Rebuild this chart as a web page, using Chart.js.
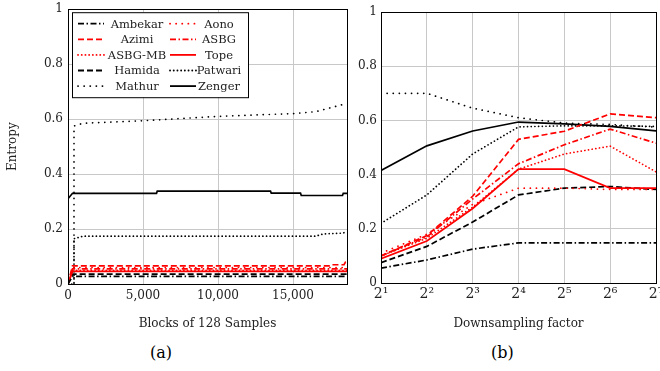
<!DOCTYPE html>
<html>
<head>
<meta charset="utf-8">
<script src="https://cdn.jsdelivr.net/npm/chart.js@4"></script>
<style>
    body { margin: 0; background: #fff; width: 660px; height: 371px; overflow: hidden; position: relative; font-family: "DejaVu Serif", serif; }
    #wrapA { position: absolute; left: 0; top: -3px; width: 355px; height: 338px; }
    #wrapB { position: absolute; left: 355px; top: 0; width: 320px; height: 335px; }
    .cap { position: absolute; top: 343px; font-size: 16px; color: #000; }
</style>
</head>
<body>
<div id="wrapA"><canvas id="chartA"></canvas></div>
<div id="wrapB"><canvas id="chartB"></canvas></div>
<div class="cap" style="left:150px">(a)</div>
<div class="cap" style="left:491px">(b)</div>

<script>
// Method names (legend order)
const methods = ['Ambekar', 'Aono', 'Azimi', 'ASBG', 'ASBG-MB', 'Tope', 'Hamida', 'Patwari', 'Mathur', 'Zenger'];

// Tick labels
const blockTicks = [0, 5000, 10000, 15000];
const entropyTicks = [0, 0.2, 0.4, 0.6, 0.8, 1];
const factorExp = [1, 2, 3, 4, 5, 6, 7];

// (a) entropy over blocks of 128 samples
const blocksAmbekar = [0, 300, 18600];
const entropyAmbekar = [0, 0.028, 0.028];
const blocksAono = [0, 300, 18600];
const entropyAono = [0, 0.06, 0.06];
const blocksAzimi = [0, 300, 17500, 17600, 18400, 18500, 18600];
const entropyAzimi = [0, 0.066, 0.066, 0.07, 0.07, 0.08, 0.08];
const blocksASBG = [0, 300, 18600];
const entropyASBG = [0, 0.055, 0.055];
const blocksASBGMB = [0, 300, 18600];
const entropyASBGMB = [0, 0.05, 0.05];
const blocksTope = [0, 300, 18600];
const entropyTope = [0, 0.046, 0.046];
const blocksHamida = [0, 300, 18600];
const entropyHamida = [0, 0.036, 0.036];
const blocksPatwari = [0, 400, 400, 1000, 16500, 17000, 18300, 18600];
const entropyPatwari = [0, 0, 0.165, 0.174, 0.174, 0.182, 0.185, 0.19];
const blocksMathur = [0, 400, 400, 1000, 5000, 10000, 15000, 16500, 18600];
const entropyMathur = [0, 0, 0.575, 0.585, 0.594, 0.61, 0.62, 0.627, 0.657];
const blocksZenger = [0, 0, 300, 5900, 5950, 13500, 13550, 15500, 15550, 18300, 18350, 18600];
const entropyZenger = [0, 0.31, 0.33, 0.33, 0.338, 0.338, 0.331, 0.331, 0.322, 0.322, 0.33, 0.33];

// (b) entropy vs downsampling factor (exponent of 2)
const downAmbekar = [0.055, 0.085, 0.125, 0.148, 0.148, 0.148, 0.148];
const downAono = [0.11, 0.18, 0.29, 0.35, 0.35, 0.345, 0.345];
const downAzimi = [0.10, 0.175, 0.32, 0.53, 0.56, 0.624, 0.61];
const downASBG = [0.10, 0.17, 0.31, 0.44, 0.51, 0.568, 0.516];
const downASBGMB = [0.10, 0.165, 0.28, 0.42, 0.476, 0.505, 0.41];
const downTope = [0.09, 0.155, 0.275, 0.42, 0.42, 0.35, 0.35];
const downHamida = [0.075, 0.135, 0.225, 0.325, 0.35, 0.356, 0.345];
const downPatwari = [0.22, 0.325, 0.476, 0.576, 0.58, 0.58, 0.578];
const downMathur = [0.70, 0.70, 0.645, 0.61, 0.59, 0.585, 0.575];
const downZenger = [0.415, 0.506, 0.561, 0.594, 0.587, 0.578, 0.561];

const blocksBy = {
    'Ambekar': [blocksAmbekar, entropyAmbekar], 'Aono': [blocksAono, entropyAono],
    'Azimi': [blocksAzimi, entropyAzimi], 'ASBG': [blocksASBG, entropyASBG],
    'ASBG-MB': [blocksASBGMB, entropyASBGMB], 'Tope': [blocksTope, entropyTope],
    'Hamida': [blocksHamida, entropyHamida], 'Patwari': [blocksPatwari, entropyPatwari],
    'Mathur': [blocksMathur, entropyMathur], 'Zenger': [blocksZenger, entropyZenger]
};
const downBy = {
    'Ambekar': downAmbekar, 'Aono': downAono, 'Azimi': downAzimi, 'ASBG': downASBG,
    'ASBG-MB': downASBGMB, 'Tope': downTope, 'Hamida': downHamida, 'Patwari': downPatwari,
    'Mathur': downMathur, 'Zenger': downZenger
};

// Line styles
const RED = 'rgb(255,0,0)';
const styles = {
    'Ambekar': { color: '#000', dash: [6, 2.5, 1.5, 2.5], cap: 'butt' },
    'Aono':    { color: RED, dash: [0.1, 6], cap: 'round' },
    'Azimi':   { color: RED, dash: [6, 3], cap: 'butt' },
    'ASBG':    { color: RED, dash: [6, 2.5, 1.5, 2.5], cap: 'butt' },
    'ASBG-MB': { color: RED, dash: [0.1, 3.6], cap: 'round' },
    'Tope':    { color: RED, dash: [], cap: 'butt' },
    'Hamida':  { color: '#000', dash: [6, 3], cap: 'butt' },
    'Patwari': { color: '#000', dash: [0.1, 3.6], cap: 'round' },
    'Mathur':  { color: '#000', dash: [0.1, 6], cap: 'round' },
    'Zenger':  { color: '#000', dash: [], cap: 'butt' }
};

const FONT = { family: '"DejaVu Serif", serif', size: 12 };
const GRID = '#c8c8c8';
const TEXT = '#222';

function makeDataset(name, points) {
    const st = styles[name];
    return {
        label: name,
        data: points,
        borderColor: st.color,
        backgroundColor: st.color,
        borderDash: st.dash,
        borderCapStyle: st.cap,
        borderWidth: 1.7,
        pointRadius: 0,
        fill: false,
        tension: 0
    };
}

// Fixed tick positions from the tick arrays
function useTicks(values) {
    return function(scale) {
        scale.ticks = values.map(v => ({ value: v }));
    };
}

function entropyLabel(v) {
    return (v === 0 || v === 1) ? String(v) : v.toFixed(1);
}

// Black frame around the plot area
const frame = {
    id: 'frame',
    afterDraw(chart) {
        const a = chart.chartArea, ctx = chart.ctx;
        ctx.save();
        ctx.strokeStyle = '#000';
        ctx.lineWidth = 1;
        ctx.strokeRect(Math.round(a.left) + 0.5, Math.round(a.top) + 0.5,
            Math.round(a.right - a.left), Math.round(a.bottom - a.top));
        ctx.restore();
    }
};

// Boxed two-column legend inside plot (a)
const boxLegend = {
    id: 'boxLegend',
    afterDraw(chart) {
        const a = chart.chartArea, ctx = chart.ctx;
        const x0 = a.left + 4, y0 = a.top + 3, w = 176, h = 85;
        ctx.save();
        ctx.fillStyle = '#fff';
        ctx.fillRect(x0, y0, w, h);
        ctx.strokeStyle = '#000';
        ctx.lineWidth = 1;
        ctx.strokeRect(x0 + 0.5, y0 + 0.5, w, h);
        ctx.font = '11.5px "DejaVu Serif", serif';
        ctx.textAlign = 'center';
        ctx.textBaseline = 'middle';
        chart.data.datasets.forEach((ds, i) => {
            const col = i % 2, row = Math.floor(i / 2);
            const sx = x0 + 6 + col * 92, sy = y0 + 11.5 + row * 15.6;
            ctx.beginPath();
            ctx.setLineDash(ds.borderDash);
            ctx.lineCap = ds.borderCapStyle;
            ctx.strokeStyle = ds.borderColor;
            ctx.lineWidth = 1.8;
            ctx.moveTo(sx, sy);
            ctx.lineTo(sx + 26, sy);
            ctx.stroke();
            ctx.setLineDash([]);
            ctx.fillStyle = TEXT;
            ctx.fillText(ds.label, col === 0 ? sx + 59 : sx + 49, sy + 1);
        });
        ctx.restore();
    }
};

const supers = { 1: '¹', 2: '²', 3: '³', 4: '⁴', 5: '⁵', 6: '⁶', 7: '⁷' };

function createChartA() {
    const datasets = methods.map(m => {
        const [xs, ys] = blocksBy[m];
        return makeDataset(m, xs.map((x, i) => ({ x: x, y: ys[i] })));
    });
    new Chart(document.getElementById('chartA'), {
        type: 'line',
        data: { datasets: datasets },
        options: {
            responsive: true,
            maintainAspectRatio: false,
            animation: false,
            layout: { padding: { top: 3, right: 8, left: 0, bottom: 0 } },
            plugins: { legend: { display: false }, tooltip: { enabled: false } },
            scales: {
                x: {
                    type: 'linear', min: 0, max: 18600,
                    afterBuildTicks: useTicks(blockTicks),
                    ticks: { font: FONT, color: TEXT, padding: 5, maxRotation: 0, autoSkip: false,
                        callback: v => v.toLocaleString('en-US') },
                    grid: { color: GRID, drawTicks: false },
                    border: { color: '#000' },
                    title: { display: true, text: 'Blocks of 128 Samples', font: FONT, color: TEXT, padding: { top: 8 } },
                    afterFit(s) { s.height = 51; }
                },
                y: {
                    min: 0, max: 1,
                    afterBuildTicks: useTicks(entropyTicks),
                    ticks: { font: FONT, color: TEXT, padding: 5, callback: entropyLabel },
                    grid: { color: GRID, drawTicks: false },
                    border: { color: '#000' },
                    title: { display: true, text: 'Entropy', font: FONT, color: TEXT, padding: { top: 6, bottom: 4 } },
                    afterFit(s) { s.width = 68; }
                }
            }
        },
        plugins: [frame, boxLegend]
    });
}

function createChartB() {
    const datasets = methods.map(m => makeDataset(m, factorExp.map((x, i) => ({ x: x, y: downBy[m][i] }))));
    new Chart(document.getElementById('chartB'), {
        type: 'line',
        data: { datasets: datasets },
        options: {
            responsive: true,
            maintainAspectRatio: false,
            animation: false,
            layout: { padding: { top: 12, right: 19, left: 0, bottom: 0 } },
            plugins: { legend: { display: false }, tooltip: { enabled: false } },
            scales: {
                x: {
                    type: 'linear', min: 1, max: 7,
                    afterBuildTicks: useTicks(factorExp),
                    ticks: {
                        font: { family: FONT.family, size: 14 }, color: TEXT, padding: 3, maxRotation: 0, autoSkip: false,
                        callback: v => '2' + supers[v]
                    },
                    grid: { color: GRID, drawTicks: false },
                    border: { color: '#000' },
                    title: { display: true, text: 'Downsampling factor', font: FONT, color: TEXT, padding: { top: 5 } },
                    afterFit(s) { s.height = 52; }
                },
                y: {
                    min: 0, max: 1,
                    afterBuildTicks: useTicks(entropyTicks),
                    ticks: { font: FONT, color: TEXT, padding: 4, callback: entropyLabel },
                    grid: { color: GRID, drawTicks: false },
                    border: { color: '#000' },
                    afterFit(s) { s.width = 26; }
                }
            }
        },
        plugins: [frame]
    });
}

createChartA();
createChartB();
</script>
</body>
</html>
